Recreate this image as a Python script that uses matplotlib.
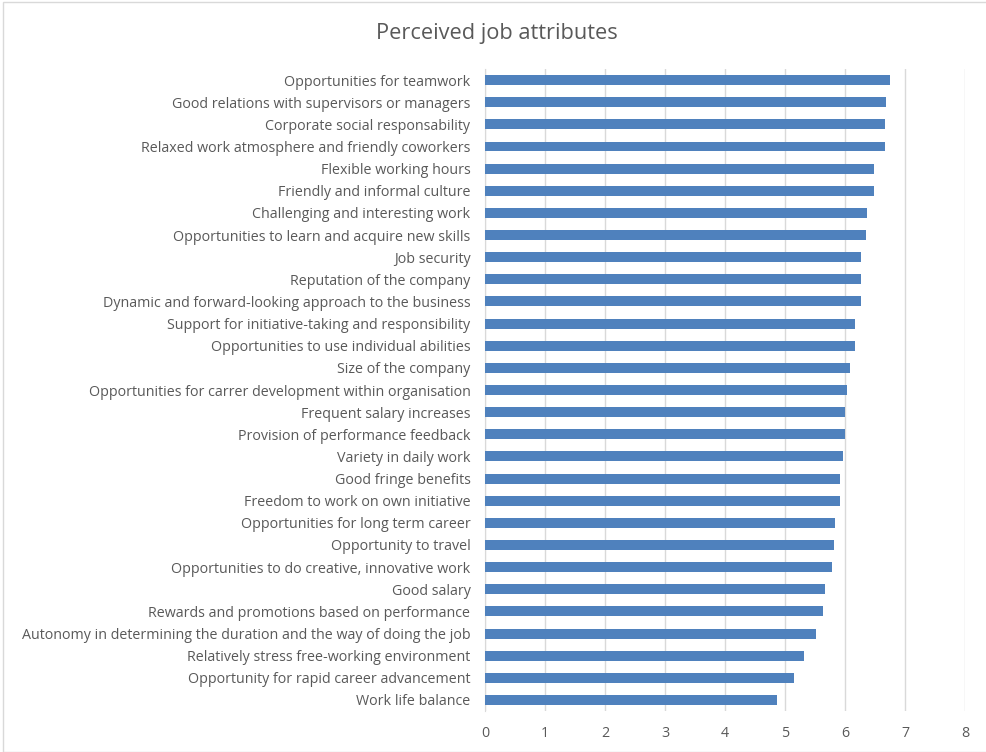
import matplotlib.pyplot as plt
from matplotlib.patches import Rectangle

plt.rcParams['font.family'] = ['Open Sans', 'DejaVu Sans']

# attributes, top to bottom as shown in the chart
attributes = [
    "Opportunities for teamwork",
    "Good relations with supervisors or managers",
    "Corporate social responsability",
    "Relaxed work atmosphere and friendly coworkers",
    "Flexible working hours",
    "Friendly and informal culture",
    "Challenging and interesting work",
    "Opportunities to learn and acquire new skills",
    "Job security",
    "Reputation of the company",
    "Dynamic and forward-looking approach to the business",
    "Support for initiative-taking and responsibility",
    "Opportunities to use individual abilities",
    "Size of the company",
    "Opportunities for carrer development within organisation",
    "Frequent salary increases",
    "Provision of performance feedback",
    "Variety in daily work",
    "Good fringe benefits",
    "Freedom to work on own initiative",
    "Opportunities for long term career",
    "Opportunity to travel",
    "Opportunities to do creative, innovative work",
    "Good salary",
    "Rewards and promotions based on performance",
    "Autonomy in determining the duration and the way of doing the job",
    "Relatively stress free-working environment",
    "Opportunity for rapid career advancement",
    "Work life balance",
]
scores = [6.75, 6.69, 6.66, 6.66, 6.48, 6.48, 6.36, 6.35, 6.27, 6.27,
          6.27, 6.17, 6.17, 6.09, 6.04, 6.00, 6.00, 5.96, 5.91, 5.91,
          5.83, 5.82, 5.78, 5.66, 5.64, 5.52, 5.31, 5.15, 4.86]

fig = plt.figure(figsize=(9.87, 7.52), dpi=100)
ax = fig.add_axes([0.4914, 0.0545, 0.4863, 0.8537])

# chart border like the Excel chart area
fig.patches.append(Rectangle((0.003, 0.0), 0.997, 0.997, transform=fig.transFigure,
                             fill=False, edgecolor='#D9D9D9', linewidth=1))

ypos = range(len(attributes))
ax.barh(ypos, scores, height=0.45, color='#4F81BD', zorder=3)
ax.set_ylim(len(attributes) - 0.5, -0.5)
ax.set_yticks(list(ypos))
ax.set_yticklabels(attributes)
ax.set_xlim(0, 8)
ax.set_xticks(range(9))

ax.grid(axis='x', color='#D9D9D9', linewidth=1, zorder=0)
for s in ['top', 'right', 'bottom']:
    ax.spines[s].set_visible(False)
ax.spines['left'].set_color('#D9D9D9')
ax.tick_params(axis='both', length=0, colors='#595959', labelsize=10.3)
ax.tick_params(axis='y', pad=10.5)
ax.tick_params(axis='x', pad=10.5)

fig.text(0.5035, 0.955, "Perceived job attributes", ha='center', va='center',
         fontsize=15.7, color='#595959')

fig.savefig('out.png', dpi=100)
